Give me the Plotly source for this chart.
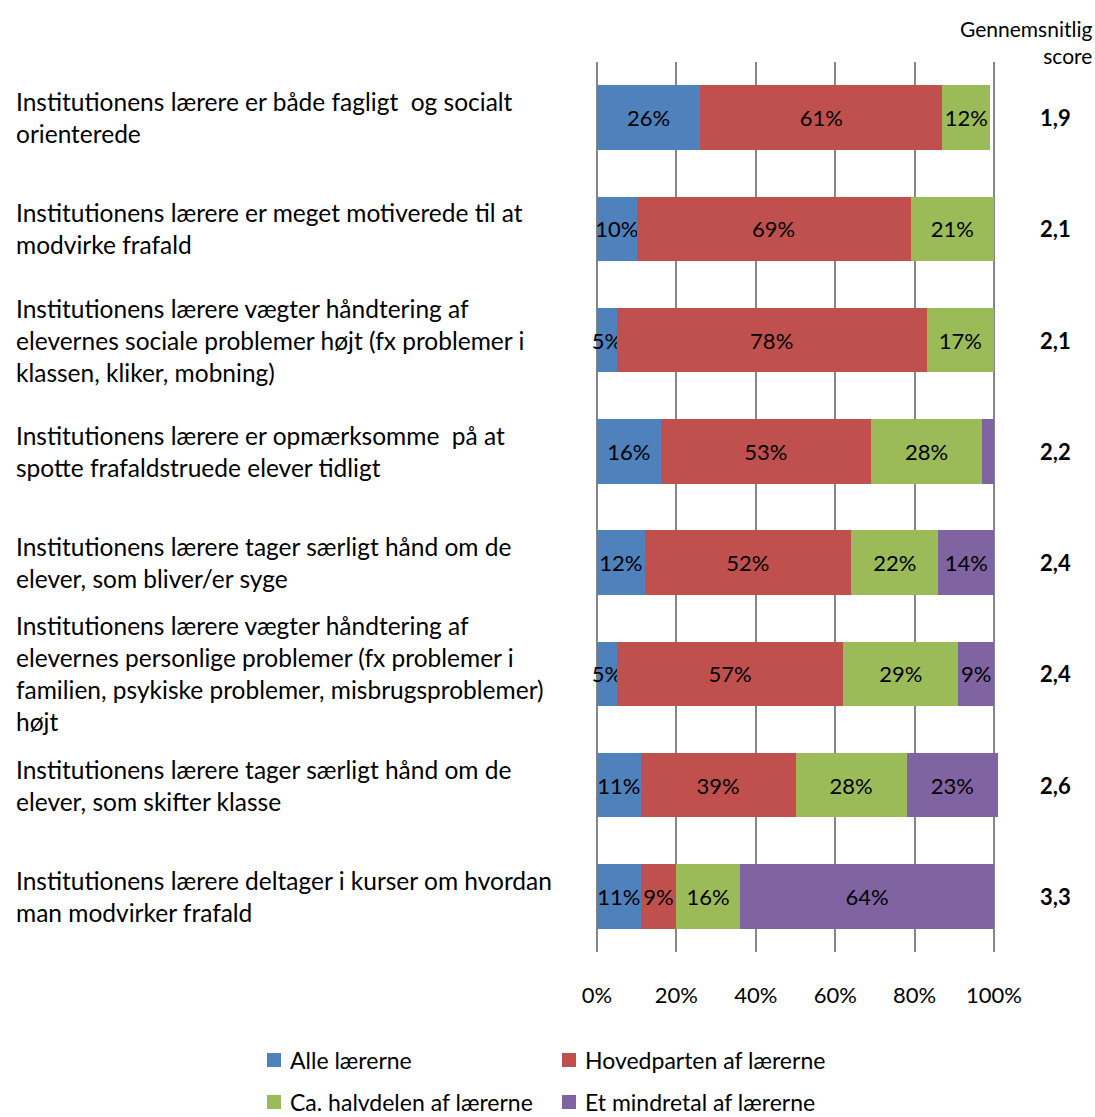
import plotly.graph_objects as go

# Survey statements (one list of text lines per row)
statements = [
    ["Institutionens lærere er både fagligt  og socialt", "orienterede"],
    ["Institutionens lærere er meget motiverede til at", "modvirke frafald"],
    ["Institutionens lærere vægter håndtering af",
     "elevernes sociale problemer højt (fx problemer i",
     "klassen, kliker, mobning)"],
    ["Institutionens lærere er opmærksomme  på at", "spotte frafaldstruede elever tidligt"],
    ["Institutionens lærere tager særligt hånd om de", "elever, som bliver/er syge"],
    ["Institutionens lærere vægter håndtering af",
     "elevernes personlige problemer (fx problemer i",
     "familien, psykiske problemer, misbrugsproblemer)",
     "højt"],
    ["Institutionens lærere tager særligt hånd om de", "elever, som skifter klasse"],
    ["Institutionens lærere deltager i kurser om hvordan", "man modvirker frafald"],
]

series_names = ["Alle lærerne", "Hovedparten af lærerne",
                "Ca. halvdelen af lærerne", "Et mindretal af lærerne"]
alle = [26, 10, 5, 16, 12, 5, 11, 11]
hovedparten = [61, 69, 78, 53, 52, 57, 39, 9]
halvdelen = [12, 21, 17, 28, 22, 29, 28, 16]
mindretal = [0, 0, 0, 3, 14, 9, 23, 64]
scores = ["1,9", "2,1", "2,1", "2,2", "2,4", "2,4", "2,6", "3,3"]
score_header = "Gennemsnitlig<br>score"
x_ticks = [0, 20, 40, 60, 80, 100]

colors = ["#4F81BD", "#C0504D", "#9BBB59", "#8064A2"]
FONT = "Lato"
FS_CAT = 24.5
FS = 22

W, H = 1095, 1117
# x range pads slightly on both sides: the 0% gridline stays visible and
# rounded rows summing to 101 still fit
X_MIN, X_MAX = -0.5, 101
PX_PER_UNIT = 3.97
L = round(597 + X_MIN * PX_PER_UNIT)
R = W - round(597 + X_MAX * PX_PER_UNIT)
T, B = 62, 165
pw, ph = W - L - R, H - T - B


def px_x(px):
    return (px - L) / pw


def px_y(py):
    return 1 - (py - T) / ph


ypos = list(range(len(statements)))

fig = go.Figure()
for name, vals, col in zip(series_names, [alle, hovedparten, halvdelen, mindretal], colors):
    fig.add_trace(go.Bar(
        y=ypos, x=vals, orientation="h", name=name,
        marker=dict(color=col, line=dict(width=0)),
        text=[f"{v}%" if v >= 5 else "" for v in vals],
        textposition="inside", insidetextanchor="middle", textangle=0,
        constraintext="none", cliponaxis=False,
        textfont=dict(family=FONT, size=FS, color="#000000"),
        showlegend=False,
    ))

annotations = []
LINE = 32
for i, lines in enumerate(statements):
    n = len(lines)
    for j, line in enumerate(lines):
        annotations.append(dict(
            x=px_x(14), xref="paper", y=i, yref="y",
            xanchor="left", yanchor="middle", showarrow=False,
            yshift=-(j - (n - 1) / 2) * LINE,
            text=line, font=dict(family=FONT, size=FS_CAT, color="#000000"),
        ))
    annotations.append(dict(
        x=px_x(1055), xref="paper", y=i, yref="y", xanchor="center", yanchor="middle",
        showarrow=False, text=f"<b>{scores[i]}</b>",
        font=dict(family=FONT, size=FS, color="#000000"),
    ))

# column header for the average score
annotations.append(dict(
    x=px_x(1094), xref="paper", y=px_y(42), yref="paper", showarrow=False,
    text=score_header, align="right", font=dict(family=FONT, size=21, color="#000000"),
    xanchor="right", yanchor="middle",
))

# legend laid out in a 2x2 grid below the plot
shapes = []
legend_pos = [(267, 1060), (562, 1060), (267, 1102), (562, 1102)]
for name, col, (lx, ly) in zip(series_names, colors, legend_pos):
    shapes.append(dict(
        type="rect", xref="paper", yref="paper",
        x0=px_x(lx), x1=px_x(lx + 14), y0=px_y(ly - 7), y1=px_y(ly + 7),
        fillcolor=col, line=dict(width=0),
    ))
    annotations.append(dict(
        x=px_x(lx + 21), xref="paper", y=px_y(ly), yref="paper",
        xanchor="left", yanchor="middle", showarrow=False, text=name,
        font=dict(family=FONT, size=23, color="#000000"),
    ))

fig.update_layout(
    width=W, height=H,
    margin=dict(l=L, r=R, t=T, b=B, autoexpand=False),
    barmode="stack", bargap=0.42,
    plot_bgcolor="#FFFFFF", paper_bgcolor="#FFFFFF",
    font=dict(family=FONT, size=FS, color="#000000"),
    annotations=annotations, shapes=shapes,
    xaxis=dict(
        range=[X_MIN, X_MAX], tickvals=x_ticks, ticktext=[f"{v}%" for v in x_ticks],
        showgrid=True, gridcolor="#868686", gridwidth=2,
        zeroline=False, showline=False, ticks="", ticklabelstandoff=28,
        tickfont=dict(family=FONT, size=FS, color="#000000"),
    ),
    yaxis=dict(
        range=[len(statements) - 0.5, -0.5], showticklabels=False,
        showgrid=False, zeroline=False, ticks="", showline=False,
    ),
)

fig.write_html("out.html")
